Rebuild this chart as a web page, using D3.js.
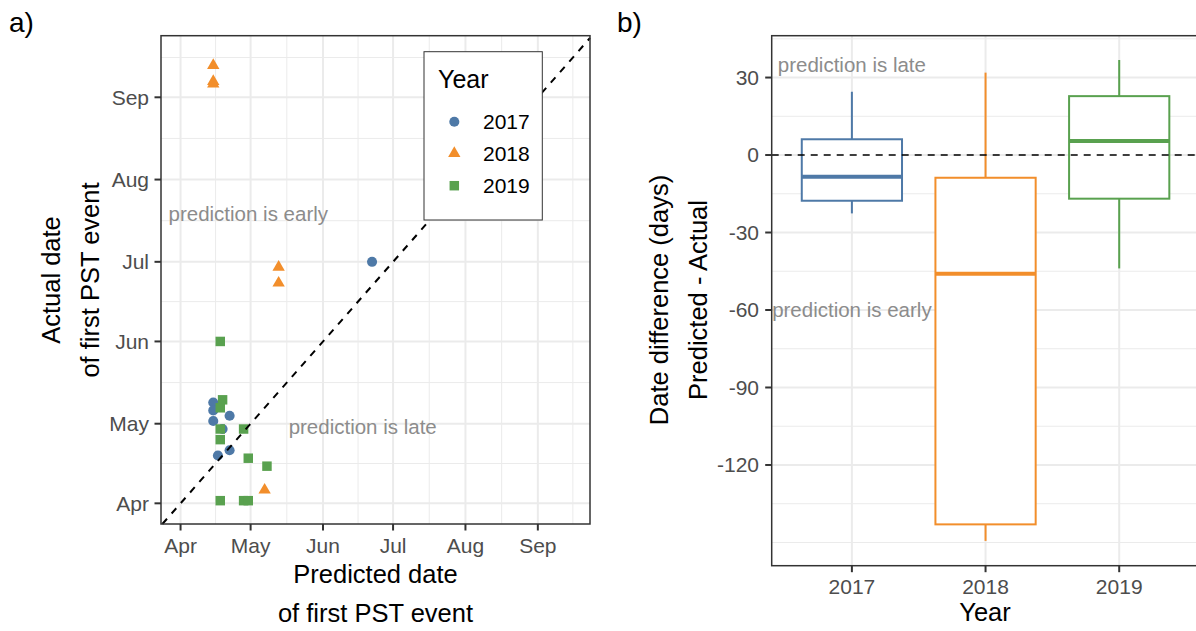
<!DOCTYPE html>
<html>
<head>
<meta charset="utf-8">
<script src="https://cdn.jsdelivr.net/npm/d3@7"></script>
<style>
  body { margin: 0; background: #fff; }
  text { font-family: "Liberation Sans", Arial, sans-serif; }
</style>
</head>
<body>
<div id="chart"></div>
<script>
// values (dates use 2019 as a dummy year)
var years = ['2017', '2018', '2019'];
var yearColors = ['#4E79A7', '#F28E2B', '#59A14F'];

var predicted2017 = ['2019-04-15', '2019-04-15', '2019-04-15', '2019-04-22', '2019-04-19', '2019-04-17', '2019-04-22', '2019-06-22'];
var actual2017 = ['2019-05-09', '2019-05-06', '2019-05-02', '2019-05-04', '2019-04-29', '2019-04-19', '2019-04-21', '2019-07-01'];

var predicted2018 = ['2019-04-15', '2019-04-15', '2019-04-15', '2019-05-13', '2019-05-13', '2019-05-07'];
var actual2018 = ['2019-09-13', '2019-09-07', '2019-09-06', '2019-06-29', '2019-06-23', '2019-04-06'];

var predicted2019 = ['2019-04-18', '2019-04-19', '2019-04-18', '2019-04-18', '2019-04-28', '2019-04-18', '2019-04-30', '2019-05-08', '2019-04-18', '2019-04-28', '2019-04-30'];
var actual2019 = ['2019-06-01', '2019-05-10', '2019-05-07', '2019-04-29', '2019-04-29', '2019-04-25', '2019-04-18', '2019-04-15', '2019-04-02', '2019-04-02', '2019-04-02'];

var monthBreaks = ['2019-04-01', '2019-05-01', '2019-06-01', '2019-07-01', '2019-08-01', '2019-09-01'];
var xDateLimits = ['2019-03-23T15:00', '2019-09-23T08:00'];
var yDateLimits = ['2019-03-24T05:00', '2019-09-24T05:00'];

// boxplot summaries of predicted - actual (days)
var boxLow = [-22.6, -149.4, -43.9];
var boxQ1 = [-17.7, -143, -16.9];
var boxMedian = [-8.4, -46, 5.4];
var boxQ3 = [6.1, -8.8, 22.8];
var boxHigh = [24.5, 31.9, 36.8];
var diffBreaks = [-120, -90, -60, -30, 0, 30];
var diffMinor = [-150, -135, -105, -75, -45, -15, 15, 45];
var diffLimits = [-159, 46.2];

var grey = '#8c8c8c';
var axisCol = '#333333';
var tickCol = '#4d4d4d';

var parse = d3.utcParse('%Y-%m-%d');
var parseT = d3.utcParse('%Y-%m-%dT%H:%M');

var svg = d3.select('#chart').append('svg')
  .attr('width', 1196)
  .attr('height', 631)
  .style('display', 'block');

svg.append('rect').attr('width', 1196).attr('height', 631).attr('fill', '#fff');

// ---------- panel a ----------
var xDomain = xDateLimits.map(parseT);
var yDomain = yDateLimits.map(parseT);

var xA = d3.scaleUtc().domain(xDomain).range([161, 590]);
var yA = d3.scaleUtc().domain(yDomain).range([524, 35.7]);

var majorDates = monthBreaks.map(parse);
var allMonths = d3.utcMonth.range(parse('2019-03-01'), parse('2019-10-02'));
var minorDates = [];
for (var i = 0; i < allMonths.length - 1; i++) {
  var mid = new Date((+allMonths[i] + +allMonths[i + 1]) / 2);
  if (mid > xDomain[0] && mid < xDomain[1]) minorDates.push(mid);
}

var gA = svg.append('g');

gA.selectAll('line.minx').data(minorDates).enter().append('line')
  .attr('x1', function (d) { return xA(d); }).attr('x2', function (d) { return xA(d); })
  .attr('y1', 35.7).attr('y2', 524)
  .attr('stroke', '#ebebeb').attr('stroke-width', 1);
gA.selectAll('line.miny').data(minorDates).enter().append('line')
  .attr('y1', function (d) { return yA(d); }).attr('y2', function (d) { return yA(d); })
  .attr('x1', 161).attr('x2', 590)
  .attr('stroke', '#ebebeb').attr('stroke-width', 1);
gA.selectAll('line.majx').data(majorDates).enter().append('line')
  .attr('x1', function (d) { return xA(d); }).attr('x2', function (d) { return xA(d); })
  .attr('y1', 35.7).attr('y2', 524)
  .attr('stroke', '#ebebeb').attr('stroke-width', 2);
gA.selectAll('line.majy').data(majorDates).enter().append('line')
  .attr('y1', function (d) { return yA(d); }).attr('y2', function (d) { return yA(d); })
  .attr('x1', 161).attr('x2', 590)
  .attr('stroke', '#ebebeb').attr('stroke-width', 2);

// points
var shapes = [d3.symbolCircle, d3.symbolTriangle, d3.symbolSquare];
var shapeSizes = [80, 66, 90];
var predicted = [predicted2017, predicted2018, predicted2019];
var actual = [actual2017, actual2018, actual2019];

var points = [];
years.forEach(function (y, k) {
  predicted[k].forEach(function (p, j) {
    points.push({ k: k, px: parse(p), ay: parse(actual[k][j]) });
  });
});

gA.selectAll('path.pt').data(points).enter().append('path')
  .attr('d', function (d) { return d3.symbol().type(shapes[d.k]).size(shapeSizes[d.k])(); })
  .attr('transform', function (d) { return 'translate(' + xA(d.px) + ',' + yA(d.ay) + ')'; })
  .attr('fill', function (d) { return yearColors[d.k]; });

// 1:1 line, kept inside the panel
var lineStart = d3.max([xDomain[0], yDomain[0]]);
var lineEnd = d3.min([xDomain[1], yDomain[1]]);
gA.append('line')
  .attr('x1', xA(lineStart)).attr('y1', yA(lineStart))
  .attr('x2', xA(lineEnd)).attr('y2', yA(lineEnd))
  .attr('stroke', '#000').attr('stroke-width', 2)
  .attr('stroke-dasharray', '7,7');

gA.append('text')
  .attr('x', xA(parse('2019-04-30'))).attr('y', yA(parse('2019-07-19')))
  .attr('dy', '0.35em').attr('text-anchor', 'middle')
  .attr('font-size', 20.5).attr('fill', grey)
  .text('prediction is early');
gA.append('text')
  .attr('x', xA(parse('2019-06-18'))).attr('y', yA(parse('2019-04-30')))
  .attr('dy', '0.35em').attr('text-anchor', 'middle')
  .attr('font-size', 20.5).attr('fill', grey)
  .text('prediction is late');

gA.append('rect')
  .attr('x', 161).attr('y', 35.7).attr('width', 429).attr('height', 488.3)
  .attr('fill', 'none').attr('stroke', axisCol).attr('stroke-width', 1.5);

// axes a
var fmt = d3.utcFormat('%b');
gA.selectAll('line.tx').data(majorDates).enter().append('line')
  .attr('x1', function (d) { return xA(d); }).attr('x2', function (d) { return xA(d); })
  .attr('y1', 524).attr('y2', 530.5)
  .attr('stroke', axisCol).attr('stroke-width', 2);
gA.selectAll('text.tx').data(majorDates).enter().append('text')
  .attr('x', function (d) { return xA(d); }).attr('y', 552.5)
  .attr('text-anchor', 'middle').attr('font-size', 21).attr('fill', tickCol)
  .text(function (d) { return fmt(d); });
gA.selectAll('line.ty').data(majorDates).enter().append('line')
  .attr('y1', function (d) { return yA(d); }).attr('y2', function (d) { return yA(d); })
  .attr('x1', 154.5).attr('x2', 161)
  .attr('stroke', axisCol).attr('stroke-width', 2);
gA.selectAll('text.ty').data(majorDates).enter().append('text')
  .attr('x', 149).attr('y', function (d) { return yA(d); })
  .attr('dy', '0.35em')
  .attr('text-anchor', 'end').attr('font-size', 21).attr('fill', tickCol)
  .text(function (d) { return fmt(d); });

gA.append('text').attr('x', 375.5).attr('y', 583)
  .attr('text-anchor', 'middle').attr('font-size', 25.5).text('Predicted date');
gA.append('text').attr('x', 375.5).attr('y', 621.5)
  .attr('text-anchor', 'middle').attr('font-size', 25.5).text('of first PST event');
gA.append('text').attr('transform', 'translate(60,280) rotate(-90)')
  .attr('text-anchor', 'middle').attr('font-size', 25.5).text('Actual date');
gA.append('text').attr('transform', 'translate(99,280) rotate(-90)')
  .attr('text-anchor', 'middle').attr('font-size', 25.5).text('of first PST event');

// legend
var leg = gA.append('g');
leg.append('rect')
  .attr('x', 424).attr('y', 51.7).attr('width', 118.3).attr('height', 168.3)
  .attr('fill', '#fff').attr('stroke', axisCol).attr('stroke-width', 1);
leg.append('text').attr('x', 438).attr('y', 88).attr('font-size', 25).text('Year');
var legY = [121.7, 153.5, 185.7];
years.forEach(function (y, k) {
  leg.append('path')
    .attr('d', d3.symbol().type(shapes[k]).size(shapeSizes[k])())
    .attr('transform', 'translate(454.3,' + legY[k] + ')')
    .attr('fill', yearColors[k]);
  leg.append('text').attr('x', 483).attr('y', legY[k]).attr('dy', '0.36em')
    .attr('font-size', 21).text(y);
});

svg.append('text').attr('x', 9).attr('y', 32).attr('font-size', 28).text('a)');
svg.append('text').attr('x', 617).attr('y', 32).attr('font-size', 28).text('b)');

// ---------- panel b ----------
var xB = d3.scalePoint().domain(years).range([771.7, 1199.4]).padding(0.6);
var yB = d3.scaleLinear().domain(diffLimits).range([565.7, 35.7]);
var boxW = xB.step() * 0.75;

var gB = svg.append('g');

gB.selectAll('line.miny').data(diffMinor).enter().append('line')
  .attr('y1', function (d) { return yB(d); }).attr('y2', function (d) { return yB(d); })
  .attr('x1', 771.7).attr('x2', 1199.4)
  .attr('stroke', '#ebebeb').attr('stroke-width', 1);
gB.selectAll('line.majy').data(diffBreaks).enter().append('line')
  .attr('y1', function (d) { return yB(d); }).attr('y2', function (d) { return yB(d); })
  .attr('x1', 771.7).attr('x2', 1199.4)
  .attr('stroke', '#ebebeb').attr('stroke-width', 2);
gB.selectAll('line.majx').data(years).enter().append('line')
  .attr('x1', function (d) { return xB(d); }).attr('x2', function (d) { return xB(d); })
  .attr('y1', 35.7).attr('y2', 565.7)
  .attr('stroke', '#ebebeb').attr('stroke-width', 2);

years.forEach(function (y, k) {
  var cx = xB(y);
  var col = yearColors[k];
  gB.append('line').attr('x1', cx).attr('x2', cx)
    .attr('y1', yB(boxQ3[k])).attr('y2', yB(boxHigh[k]))
    .attr('stroke', col).attr('stroke-width', 2);
  gB.append('line').attr('x1', cx).attr('x2', cx)
    .attr('y1', yB(boxQ1[k])).attr('y2', yB(boxLow[k]))
    .attr('stroke', col).attr('stroke-width', 2);
  gB.append('rect')
    .attr('x', cx - boxW / 2).attr('width', boxW)
    .attr('y', yB(boxQ3[k])).attr('height', yB(boxQ1[k]) - yB(boxQ3[k]))
    .attr('fill', '#fff').attr('stroke', col).attr('stroke-width', 2);
  gB.append('line').attr('x1', cx - boxW / 2).attr('x2', cx + boxW / 2)
    .attr('y1', yB(boxMedian[k])).attr('y2', yB(boxMedian[k]))
    .attr('stroke', col).attr('stroke-width', 4);
});

gB.append('line')
  .attr('x1', 771.7).attr('x2', 1199.4)
  .attr('y1', yB(0)).attr('y2', yB(0))
  .attr('stroke', '#000').attr('stroke-width', 1.5)
  .attr('stroke-dasharray', '7,6');

gB.append('text').attr('x', xB('2017')).attr('y', yB(35)).attr('dy', '0.35em')
  .attr('text-anchor', 'middle').attr('font-size', 20.5).attr('fill', grey)
  .text('prediction is late');
gB.append('text').attr('x', xB('2017')).attr('y', yB(-60)).attr('dy', '0.35em')
  .attr('text-anchor', 'middle').attr('font-size', 20.5).attr('fill', grey)
  .text('prediction is early');

gB.append('rect')
  .attr('x', 771.7).attr('y', 35.7).attr('width', 427.7).attr('height', 530)
  .attr('fill', 'none').attr('stroke', axisCol).attr('stroke-width', 1.5);

gB.selectAll('line.ty').data(diffBreaks).enter().append('line')
  .attr('y1', function (d) { return yB(d); }).attr('y2', function (d) { return yB(d); })
  .attr('x1', 765.2).attr('x2', 771.7)
  .attr('stroke', axisCol).attr('stroke-width', 2);
gB.selectAll('text.ty').data(diffBreaks).enter().append('text')
  .attr('x', 759).attr('y', function (d) { return yB(d); }).attr('dy', '0.35em')
  .attr('text-anchor', 'end').attr('font-size', 21).attr('fill', tickCol)
  .text(function (d) { return d; });
gB.selectAll('line.tx').data(years).enter().append('line')
  .attr('x1', function (d) { return xB(d); }).attr('x2', function (d) { return xB(d); })
  .attr('y1', 565.7).attr('y2', 572.2)
  .attr('stroke', axisCol).attr('stroke-width', 2);
gB.selectAll('text.tx').data(years).enter().append('text')
  .attr('x', function (d) { return xB(d); }).attr('y', 594)
  .attr('text-anchor', 'middle').attr('font-size', 21).attr('fill', tickCol)
  .text(function (d) { return d; });

gB.append('text').attr('x', 985).attr('y', 621)
  .attr('text-anchor', 'middle').attr('font-size', 25.5).text('Year');
gB.append('text').attr('transform', 'translate(668,300) rotate(-90)')
  .attr('text-anchor', 'middle').attr('font-size', 25.5).text('Date difference (days)');
gB.append('text').attr('transform', 'translate(707,300) rotate(-90)')
  .attr('text-anchor', 'middle').attr('font-size', 25.5).text('Predicted - Actual');
</script>
</body>
</html>
